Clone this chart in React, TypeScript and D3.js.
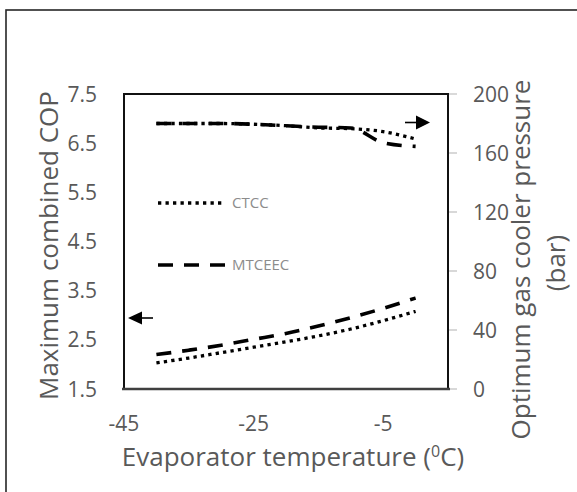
import React from "react";
import * as d3 from "d3";

const temps = [-40, -35, -30, -25, -20, -15, -10, -5, 0];
const copCTCC = [2.03, 2.13, 2.24, 2.35, 2.46, 2.58, 2.72, 2.89, 3.08];
const copMTCEEC = [2.2, 2.29, 2.39, 2.51, 2.63, 2.78, 2.95, 3.14, 3.35];
const presCTCC = [180, 180, 180, 179.5, 178.5, 177, 176.5, 174.5, 169.5];
const presMTCEEC = [180, 180, 180, 179.5, 178.5, 177.5, 177, 167, 164.5];

const xTicks = [-45, -25, -5];
const leftTicks = [1.5, 2.5, 3.5, 4.5, 5.5, 6.5, 7.5];
const rightTicks = [0, 40, 80, 120, 160, 200];

const seriesNames = ["CTCC", "MTCEEC"];

const W = 577;
const H = 492;
const L = 124, R = 448, T = 94, B = 389;
const FONT = "'Open Sans', 'DejaVu Sans', sans-serif";
const TXT = "#595959";

const DOT = { width: 3.3, dash: "3.3 4.2" };
const DASH = { width: 3.6, dash: "15 11" };

export default function App() {
  const x = d3.scaleLinear().domain([-45, 5]).range([L, R]);
  const yL = d3.scaleLinear().domain([1.5, 7.5]).range([B, T]);
  const yR = d3.scaleLinear().domain([0, 200]).range([B, T]);

  const lineL = d3
    .line<[number, number]>()
    .x((d) => x(d[0]))
    .y((d) => yL(d[1]))
    .curve(d3.curveMonotoneX);
  const lineR = d3
    .line<[number, number]>()
    .x((d) => x(d[0]))
    .y((d) => yR(d[1]))
    .curve(d3.curveMonotoneX);

  const zip = (a: number[]) => temps.map((t, i) => [t, a[i]] as [number, number]);

  return (
    <svg
      width={W}
      height={H}
      style={{ position: "absolute", left: 0, top: 0, background: "#fff" }}
      fontFamily={FONT}
    >
      <rect x={0} y={0} width={W} height={H} fill="#fff" />
      {/* outer frame */}
      <rect x={6} y={10} width={640} height={560} fill="none" stroke="#262626" strokeWidth={1.6} />

      {/* right axis ticks */}
      {rightTicks.map((t) => (
        <line key={"rt" + t} x1={R} x2={R + 9} y1={yR(t)} y2={yR(t)} stroke="#bfbfbf" strokeWidth={1.2} />
      ))}

      {/* series */}
      <path d={lineL(zip(copCTCC)) || ""} fill="none" stroke="#000" strokeWidth={DOT.width} strokeDasharray={DOT.dash} />
      <path d={lineL(zip(copMTCEEC)) || ""} fill="none" stroke="#000" strokeWidth={DASH.width} strokeDasharray={DASH.dash} />
      <path d={lineR(zip(presCTCC)) || ""} fill="none" stroke="#000" strokeWidth={DOT.width} strokeDasharray={DOT.dash} />
      <path d={lineR(zip(presMTCEEC)) || ""} fill="none" stroke="#000" strokeWidth={DASH.width} strokeDasharray={DASH.dash} />

      {/* plot box */}
      <rect x={L} y={T} width={R - L} height={B - T} fill="none" stroke="#111" strokeWidth={2} />
      <line x1={L - 2} x2={R + 2} y1={B} y2={B} stroke="#404040" strokeWidth={2.6} />

      {/* legend */}
      <line x1={158} x2={222} y1={203} y2={203} stroke="#000" strokeWidth={DOT.width} strokeDasharray={DOT.dash} />
      <text x={232} y={203} dy="0.35em" fontSize={15} fill="#8c8c8c">{seriesNames[0]}</text>
      <line x1={158} x2={225} y1={265} y2={265} stroke="#000" strokeWidth={DASH.width} strokeDasharray={DASH.dash} />
      <text x={232} y={265} dy="0.35em" fontSize={15} fill="#8c8c8c">{seriesNames[1]}</text>

      {/* arrows */}
      <line x1={405} x2={420} y1={122.5} y2={122.5} stroke="#000" strokeWidth={1.6} />
      <path d="M430,122.5 L416,115.5 L416,129.5 Z" fill="#000" />
      <line x1={138} x2={153} y1={318} y2={318} stroke="#000" strokeWidth={1.6} />
      <path d="M128,318 L142,311.5 L142,324.5 Z" fill="#000" />

      {/* left tick labels */}
      {leftTicks.map((t) => (
        <text key={"lt" + t} x={97} y={yL(t)} dy="0.36em" textAnchor="end" fontSize={21} fill={TXT}>
          {t.toFixed(1)}
        </text>
      ))}
      {/* right tick labels */}
      {rightTicks.map((t) => (
        <text key={"rl" + t} x={473} y={yR(t)} dy="0.36em" textAnchor="start" fontSize={21} fill={TXT}>
          {t}
        </text>
      ))}
      {/* x tick labels */}
      {xTicks.map((t) => (
        <text key={"xt" + t} x={x(t)} y={423} dy="0.36em" textAnchor="middle" fontSize={21} fill={TXT}>
          {t}
        </text>
      ))}

      {/* titles */}
      <text x={293} y={466} textAnchor="middle" fontSize={26} fill={TXT}>
        Evaporator temperature (<tspan fontSize={16} dy={-9}>0</tspan><tspan dy={9}>C)</tspan>
      </text>
      <text transform="translate(58,245.5) rotate(-90)" textAnchor="middle" fontSize={26} fill={TXT}>
        Maximum combined COP
      </text>
      <text transform="translate(530,259.5) rotate(-90)" textAnchor="middle" fontSize={26} fill={TXT}>
        Optimum gas cooler pressure
      </text>
      <text transform="translate(565,263) rotate(-90)" textAnchor="middle" fontSize={26} fill={TXT}>
        (bar)
      </text>
    </svg>
  );
}
